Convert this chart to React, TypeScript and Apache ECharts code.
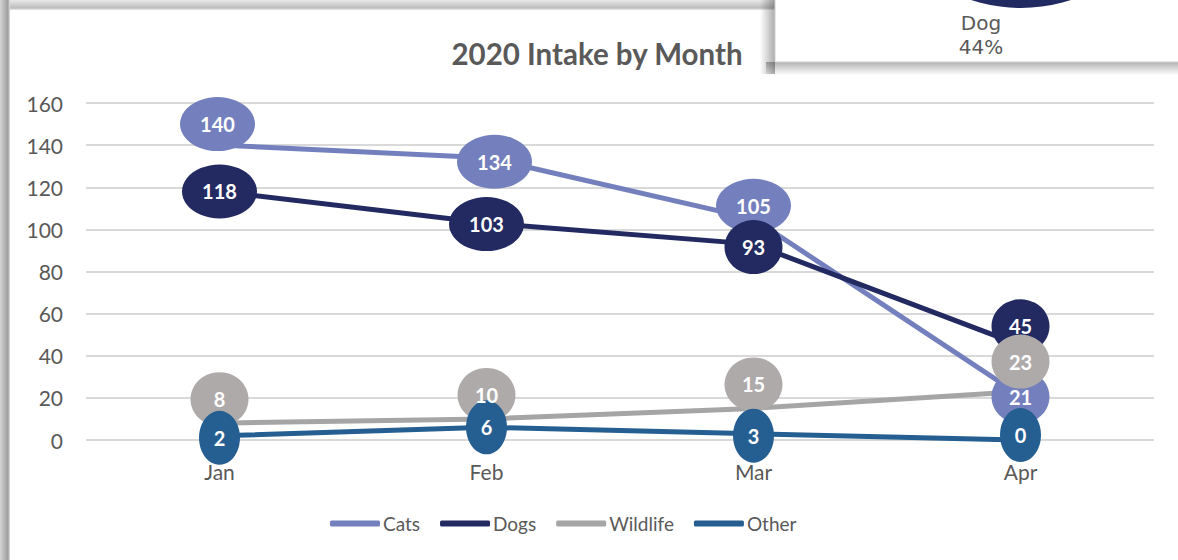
import React, { useEffect, useRef } from "react";
import * as echarts from "echarts";

const categories = ["Jan", "Feb", "Mar", "Apr"];
const seriesNames = ["Cats", "Dogs", "Wildlife", "Other"];
const cats = [140, 134, 105, 21];
const dogs = [118, 103, 93, 45];
const wildlife = [8, 10, 15, 23];
const other = [2, 6, 3, 0];
const yMin = 0;
const yMax = 160;
const yStep = 20;
const insetLabel = "Dog";
const insetValue = "44%";

// label bubble offsets (pixels, relative to the data point)
const catsShift = [[-2, -21], [8, 4], [0, -13], [0, 1]];
const dogsShift = [[0, 0], [0, 1], [0, 3], [0, -19]];
const wildlifeShift = [[0, -24], [0, -24], [0, -24], [0, -30]];
const otherShift = [[0, 2], [0, 0], [0, 2], [0, -5]];
// minimum bubble width per series
const bubbleMinWidth = [58, 58, 58, 41];

const lineColors = ["#7480BD", "#232A62", "#A5A5A5", "#255E91"];
const bubbleColors = ["#7480BD", "#232A62", "#AEAAAA", "#255E91"];

const FONT = "Lato";

function bubbleSize(v: number, minW: number): number[] {
  const n = String(v).length;
  const w = n >= 3 ? 75 : n === 2 ? 58 : 41;
  return [Math.max(w, minW), 54];
}

export default function App() {
  const ref = useRef<HTMLDivElement>(null);
  useEffect(() => {
    if (!ref.current) return;
    const chart = echarts.init(ref.current, null, { renderer: "svg" });
    const values = [cats, dogs, wildlife, other];
    const shifts = [catsShift, dogsShift, wildlifeShift, otherShift];

    const lineSeries = values.map((vals, i) => ({
      type: "line",
      name: seriesNames[i],
      data: vals,
      showSymbol: false,
      symbol: "none",
      lineStyle: { color: lineColors[i], width: 5 },
      itemStyle: { color: lineColors[i] },
      z: 2,
      silent: true,
    }));

    const bubbleSeries = values.map((vals, i) => ({
      type: "scatter",
      name: seriesNames[i],
      symbol: "circle",
      z: 3,
      itemStyle: { color: bubbleColors[i], opacity: 1 },
      label: {
        show: true,
        position: "inside",
        color: "#FFFFFF",
        fontFamily: FONT,
        fontWeight: "bold",
        fontSize: 20,
      },
      data: vals.map((v, j) => ({
        value: v,
        symbolSize: bubbleSize(v, bubbleMinWidth[i]),
        symbolOffset: shifts[i][j],
      })),
    }));

    chart.setOption({
      animation: false,
      backgroundColor: "#FFFFFF",
      title: {
        text: "2020 Intake by Month",
        left: 592,
        top: 33,
        textAlign: "center",
        textStyle: {
          fontFamily: FONT,
          fontWeight: "bold",
          fontSize: 29.5,
          color: "#595959",
        },
      },
      legend: {
        data: seriesNames,
        left: 330,
        top: 514,
        padding: 0,
        itemWidth: 50,
        itemHeight: 6,
        itemGap: 20,
        icon: "roundRect",
        textStyle: { fontFamily: FONT, fontSize: 19, color: "#595959", padding: [0, 0, 0, -2] },
      },
      grid: { left: 86, right: 24, top: 103, bottom: 120, containLabel: false },
      xAxis: {
        type: "category",
        data: categories,
        boundaryGap: true,
        axisLine: { show: false },
        axisTick: { show: false },
        axisLabel: { fontFamily: FONT, fontSize: 21, color: "#595959", margin: 21 },
      },
      yAxis: {
        type: "value",
        min: yMin,
        max: yMax,
        interval: yStep,
        axisLine: { show: false },
        axisTick: { show: false },
        axisLabel: { fontFamily: FONT, fontSize: 21, color: "#595959", margin: 23 },
        splitLine: { lineStyle: { color: "#D9D9D9", width: 2 } },
      },
      graphic: [
        {
          type: "rect",
          shape: { x: 0, y: 0, width: 10, height: 560 },
          style: {
            fill: new echarts.graphic.LinearGradient(0, 0, 1, 0, [
              { offset: 0, color: "#D4D4D4" },
              { offset: 0.8, color: "#9E9E9E" },
              { offset: 1, color: "#E6E6E6" },
            ]),
          },
          silent: true,
        },
        {
          type: "rect",
          shape: { x: 10, y: 0, width: 1168, height: 10 },
          style: {
            fill: new echarts.graphic.LinearGradient(0, 0, 0, 1, [
              { offset: 0, color: "#E8E8E8" },
              { offset: 0.8, color: "#BDBDBD" },
              { offset: 1, color: "#EDEDED" },
            ]),
          },
          silent: true,
        },
        {
          type: "rect",
          z: 100,
          shape: { x: 760, y: 0, width: 15, height: 74 },
          style: {
            fill: new echarts.graphic.LinearGradient(0, 0, 1, 0, [
              { offset: 0, color: "rgba(0,0,0,0)" },
              { offset: 1, color: "rgba(0,0,0,0.33)" },
            ]),
          },
          silent: true,
        },
        {
          type: "rect",
          z: 100,
          shape: { x: 766, y: 62, width: 412, height: 13 },
          style: {
            fill: new echarts.graphic.LinearGradient(0, 0, 0, 1, [
              { offset: 0, color: "rgba(0,0,0,0.3)" },
              { offset: 1, color: "rgba(0,0,0,0)" },
            ]),
          },
          silent: true,
        },
        {
          type: "rect",
          z: 101,
          shape: { x: 775, y: -2, width: 410, height: 64 },
          style: { fill: "#FFFFFF", stroke: "#CFCFCF", lineWidth: 1 },
          silent: true,
        },
        {
          type: "circle",
          z: 102,
          shape: { cx: 1021, cy: -152, r: 160 },
          style: { fill: "#222A62" },
          silent: true,
        },
        {
          type: "text",
          z: 103,
          x: 981,
          y: 23,
          style: {
            text: insetLabel,
            fontFamily: "DejaVu Sans",
            fontSize: 20,
            fill: "#595959",
            align: "center",
            verticalAlign: "middle",
          },
          silent: true,
        },
        {
          type: "text",
          z: 103,
          x: 981,
          y: 47,
          style: {
            text: insetValue,
            fontFamily: "DejaVu Sans",
            fontSize: 20,
            fill: "#595959",
            align: "center",
            verticalAlign: "middle",
          },
          silent: true,
        },
      ],
      series: [...lineSeries, ...bubbleSeries],
    });
    return () => chart.dispose();
  }, []);
  return (
    <div
      ref={ref}
      style={{ position: "fixed", left: 0, top: 0, width: 1178, height: 560 }}
    />
  );
}
